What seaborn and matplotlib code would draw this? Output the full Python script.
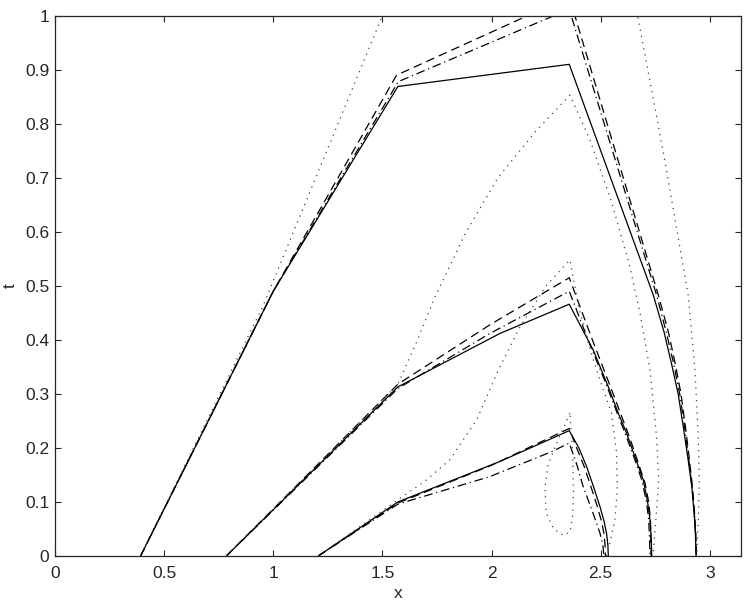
import numpy as np
import pandas as pd
import seaborn as sns
import matplotlib
matplotlib.use("Agg")
import matplotlib.pyplot as plt

# curves: (x, t) pairs
# family 1 (starts near pi/8)
s1_x = [0.392, 1.00, 1.571, 2.356, 2.741, 2.79, 2.825, 2.855, 2.878, 2.90, 2.917, 2.928, 2.934, 2.937]
s1_t = [0.0, 0.49, 0.869, 0.910, 0.483, 0.415, 0.355, 0.30, 0.24, 0.18, 0.13, 0.08, 0.04, 0.0]
d1_x = [0.392, 1.00, 1.565, 2.356, 2.764, 2.81, 2.842, 2.868, 2.888, 2.906, 2.92, 2.93, 2.936, 2.938]
d1_t = [0.0, 0.49, 0.890, 1.035, 0.483, 0.415, 0.355, 0.30, 0.24, 0.18, 0.13, 0.08, 0.04, 0.0]
c1_x = [0.392, 1.00, 1.573, 2.356, 2.756, 2.80, 2.835, 2.862, 2.884, 2.903, 2.918, 2.929, 2.935, 2.938]
c1_t = [0.0, 0.49, 0.878, 1.012, 0.483, 0.415, 0.355, 0.30, 0.24, 0.18, 0.13, 0.08, 0.04, 0.0]

# family 2 (starts near pi/4)
s2_x = [0.785, 1.571, 2.039, 2.356, 2.466, 2.535, 2.58, 2.619, 2.66, 2.695, 2.715, 2.726, 2.732, 2.734]
s2_t = [0.0, 0.313, 0.412, 0.466, 0.381, 0.313, 0.265, 0.227, 0.18, 0.141, 0.10, 0.067, 0.03, 0.0]
d2_x = [0.785, 1.571, 1.993, 2.356, 2.462, 2.545, 2.59, 2.632, 2.67, 2.703, 2.72, 2.728, 2.73, 2.731]
d2_t = [0.0, 0.318, 0.428, 0.515, 0.400, 0.313, 0.265, 0.22, 0.175, 0.135, 0.10, 0.067, 0.03, 0.0]
c2_x = [0.785, 1.571, 1.993, 2.356, 2.452, 2.530, 2.575, 2.612, 2.655, 2.688, 2.71, 2.72, 2.724, 2.726]
c2_t = [0.0, 0.310, 0.412, 0.490, 0.390, 0.313, 0.265, 0.227, 0.18, 0.141, 0.10, 0.067, 0.03, 0.0]

# family 3 (starts near 3pi/8)
s3_x = [1.206, 1.571, 2.039, 2.356, 2.40, 2.436, 2.47, 2.497, 2.515, 2.527, 2.533, 2.535]
s3_t = [0.0, 0.100, 0.175, 0.232, 0.20, 0.165, 0.125, 0.091, 0.065, 0.042, 0.02, 0.0]
d3_x = [1.206, 1.571, 2.000, 2.356, 2.39, 2.425, 2.458, 2.485, 2.503, 2.515, 2.52, 2.522]
d3_t = [0.0, 0.098, 0.168, 0.236, 0.20, 0.165, 0.125, 0.091, 0.065, 0.042, 0.02, 0.0]
c3_x = [1.206, 1.571, 1.993, 2.275, 2.356, 2.39, 2.420, 2.46, 2.497, 2.51, 2.515]
c3_t = [0.0, 0.096, 0.147, 0.193, 0.209, 0.17, 0.128, 0.085, 0.042, 0.02, 0.0]

# dotted curves
p1_x = [0.392, 0.95, 1.492, 1.571, 2.0, 2.356, 2.55, 2.669, 2.785, 2.901,
        2.932, 2.947, 2.952, 2.947, 2.940]
p1_t = [0.0, 0.46, 0.992, 1.07, 1.28, 1.42, 1.25, 1.0, 0.752, 0.483,
        0.344, 0.221, 0.141, 0.067, 0.0]
p2_x = [0.785, 1.571, 1.65, 1.745, 1.88, 2.029, 2.2, 2.359, 2.451, 2.55,
        2.634, 2.68, 2.726, 2.756, 2.766, 2.756, 2.740]
p2_t = [0.0, 0.318, 0.39, 0.483, 0.597, 0.700, 0.785, 0.853, 0.770, 0.655,
        0.535, 0.45, 0.344, 0.221, 0.141, 0.085, 0.0]
p3_x = [1.206, 1.571, 1.70, 1.809, 1.932, 2.031, 2.130, 2.25, 2.359, 2.40,
        2.46, 2.51, 2.55, 2.573, 2.576, 2.565, 2.542, 2.527]
p3_t = [0.0, 0.104, 0.14, 0.178, 0.252, 0.344, 0.424, 0.50, 0.548, 0.46,
        0.37, 0.31, 0.264, 0.190, 0.122, 0.067, 0.024, 0.0]
p4_x = [2.359, 2.30, 2.26, 2.245, 2.25, 2.285, 2.33, 2.36, 2.372, 2.375,
        2.372, 2.365, 2.359]
p4_t = [0.264, 0.21, 0.17, 0.128, 0.08, 0.05, 0.038, 0.045, 0.075, 0.12,
        0.19, 0.23, 0.264]

curves = {
    "s1": (s1_x, s1_t, "solid"), "d1": (d1_x, d1_t, "dashed"), "c1": (c1_x, c1_t, "dashdot"),
    "s2": (s2_x, s2_t, "solid"), "d2": (d2_x, d2_t, "dashed"), "c2": (c2_x, c2_t, "dashdot"),
    "s3": (s3_x, s3_t, "solid"), "d3": (d3_x, d3_t, "dashed"), "c3": (c3_x, c3_t, "dashdot"),
    "p1": (p1_x, p1_t, "dotted"), "p2": (p2_x, p2_t, "dotted"),
    "p3": (p3_x, p3_t, "dotted"), "p4": (p4_x, p4_t, "dotted"),
}

rows = []
for name, (xs, ts, kind) in curves.items():
    for i, (xv, tv) in enumerate(zip(xs, ts)):
        rows.append({"curve": name, "kind": kind, "order": i, "x": xv, "t": tv})
df = pd.DataFrame(rows)

sns.set_style("ticks")
plt.rcParams['font.family'] = ['Liberation Sans', 'DejaVu Sans']

fig = plt.figure(figsize=(7.47, 6.04), dpi=100)
ax = fig.add_axes([0.0736, 0.0795, 0.918, 0.8945])

styles = {"solid": "", "dashed": (7, 4), "dashdot": (7, 3, 1, 3), "dotted": (1, 4)}
for name, grp in df.groupby("curve", sort=False):
    kind = grp["kind"].iloc[0]
    sns.lineplot(data=grp, x="x", y="t", sort=False, estimator=None, ax=ax,
                 color="k" if kind != "dotted" else "#444444",
                 lw=0.9, linestyle=(0, styles[kind]) if styles[kind] else "-")

ax.set_xlim(0, np.pi)
ax.set_ylim(0, 1)
xt = [0, 0.5, 1, 1.5, 2, 2.5, 3]
yt = [0, 0.1, 0.2, 0.3, 0.4, 0.5, 0.6, 0.7, 0.8, 0.9, 1]
ax.set_xticks(xt)
ax.set_xticklabels(["0", "0.5", "1", "1.5", "2", "2.5", "3"])
ax.set_yticks(yt)
ax.set_yticklabels(["0", "0.1", "0.2", "0.3", "0.4", "0.5", "0.6", "0.7", "0.8", "0.9", "1"])
ax.tick_params(direction="in", length=4.5, width=0.8, top=True, right=True,
               labelsize=12.5, pad=4)
ax.tick_params(axis="x", pad=7)
for sp in ax.spines.values():
    sp.set_visible(True)
    sp.set_linewidth(0.9)
ax.set_xlabel("x", fontsize=12.5, labelpad=4)
ax.set_ylabel("t", fontsize=12.5, labelpad=5.5)

fig.savefig("out.png", dpi=100)
